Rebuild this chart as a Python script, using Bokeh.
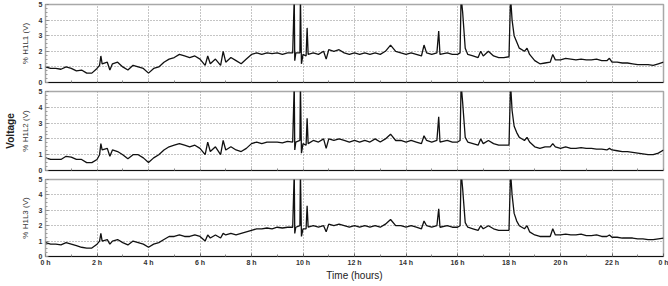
from bokeh.plotting import figure
from bokeh.layouts import column
from bokeh.models import FixedTicker, LinearAxis, Range1d, PrintfTickFormatter
from bokeh.embed import file_html
from bokeh.resources import INLINE

# time of day in hours
hours = [
    0.0, 0.2, 0.4, 0.6, 0.8, 1.0, 1.2, 1.4, 1.6, 1.8,
    2.0, 2.1, 2.15, 2.2, 2.4, 2.5, 2.6, 2.8, 3.0, 3.2,
    3.4, 3.6, 3.8, 4.0, 4.2, 4.4, 4.6, 4.8, 5.0, 5.2,
    5.4, 5.6, 5.8, 6.0, 6.2, 6.3, 6.4, 6.6, 6.8, 6.9,
    7.0, 7.2, 7.4, 7.6, 7.8, 8.0, 8.2, 8.4, 8.6, 8.8,
    9.0, 9.2, 9.4, 9.6, 9.66, 9.68, 9.72, 9.88, 9.90, 9.94,
    10.0, 10.12, 10.16, 10.2, 10.4, 10.6, 10.8, 10.9, 11.0, 11.2,
    11.4, 11.6, 11.8, 12.0, 12.2, 12.4, 12.6, 12.8, 13.0, 13.2,
    13.4, 13.6, 13.8, 14.0, 14.2, 14.4, 14.6, 14.7, 14.8, 15.0,
    15.2, 15.27, 15.32, 15.6, 15.8, 16.0, 16.1, 16.14, 16.2, 16.3,
    16.4, 16.6, 16.8, 16.9, 17.0, 17.2, 17.4, 17.6, 17.8, 18.0,
    18.06, 18.12, 18.2, 18.3, 18.4, 18.6, 18.7, 18.8, 19.0, 19.2,
    19.4, 19.6, 19.7, 19.8, 20.0, 20.2, 20.4, 20.6, 20.8, 21.0,
    21.2, 21.4, 21.6, 21.8, 21.9, 22.0, 22.2, 22.4, 22.6, 22.8,
    23.0, 23.2, 23.4, 23.6, 23.8, 24.0,
]

h1l1 = [
    1.0, 0.9, 0.9, 0.85, 1.0, 0.9, 0.75, 0.8, 0.6, 0.6,
    0.9, 1.1, 1.7, 1.2, 1.3, 0.8, 1.2, 1.3, 1.0, 0.8,
    1.1, 1.0, 0.9, 0.6, 0.9, 1.0, 1.3, 1.5, 1.6, 1.8,
    1.7, 1.6, 1.7, 1.5, 1.1, 1.7, 1.2, 1.5, 1.1, 2.0,
    1.3, 1.6, 1.4, 1.2, 1.5, 1.8, 1.9, 1.8, 1.9, 1.85,
    1.9, 1.8, 1.9, 1.9, 5.5, 1.4, 1.9, 1.9, 5.5, 1.2,
    1.8, 1.7, 3.5, 1.8, 1.9, 1.8, 2.0, 1.5, 2.1, 2.0,
    2.1, 1.9, 1.8, 1.9, 1.8, 1.9, 1.8, 1.9, 1.8, 2.0,
    2.4, 2.0, 1.9, 1.8, 1.9, 1.8, 1.7, 2.4, 1.9, 1.8,
    1.9, 3.3, 1.8, 1.9, 1.8, 1.8, 1.9, 5.5, 4.5, 2.2,
    1.8, 1.7, 1.6, 2.0, 1.7, 2.0, 1.7, 1.6, 1.6, 1.65,
    5.5, 4.0, 3.0, 2.6, 2.2, 2.0, 2.2, 1.8, 1.4, 1.2,
    1.25, 1.3, 1.8, 1.45, 1.45, 1.55, 1.5, 1.45, 1.5, 1.45,
    1.45, 1.5, 1.4, 1.4, 1.55, 1.3, 1.3, 1.25, 1.25, 1.2,
    1.15, 1.15, 1.15, 1.1, 1.2, 1.3,
]

h1l2 = [
    0.8, 0.7, 0.7, 0.7, 0.9, 0.85, 0.7, 0.7, 0.5, 0.5,
    0.7, 1.0, 1.7, 1.3, 1.4, 0.9, 1.3, 1.2, 1.0, 0.75,
    1.0, 1.0, 0.8, 0.5, 0.8, 1.0, 1.3, 1.5, 1.6, 1.7,
    1.6, 1.5, 1.6, 1.4, 1.0, 1.8, 1.2, 1.5, 1.0, 1.9,
    1.3, 1.5, 1.3, 1.2, 1.4, 1.7, 1.8, 1.7, 1.8, 1.8,
    1.8, 1.75, 1.85, 1.8, 5.5, 1.3, 1.8, 1.9, 5.5, 1.1,
    1.7, 1.6, 3.3, 1.7, 1.9, 1.8, 2.0, 1.4, 2.0, 1.9,
    2.0, 1.9, 1.8, 1.9, 1.8, 1.9, 1.8, 2.0, 1.8, 2.0,
    2.3, 1.9, 1.9, 1.8, 1.9, 1.8, 1.7, 2.2, 1.9, 1.8,
    1.9, 3.4, 1.8, 1.9, 1.8, 1.8, 1.9, 5.5, 4.3, 2.1,
    1.8, 1.7, 1.6, 2.0, 1.7, 1.9, 1.7, 1.6, 1.6, 1.6,
    5.5, 3.8, 2.8, 2.4, 2.1, 1.9, 2.1, 1.8, 1.5, 1.4,
    1.5, 1.5, 1.7, 1.5, 1.4, 1.5, 1.4, 1.4, 1.45, 1.4,
    1.4, 1.35, 1.35, 1.3, 1.4, 1.3, 1.25, 1.2, 1.2, 1.15,
    1.1, 1.05, 1.0, 1.0, 1.1, 1.3,
]

h1l3 = [
    0.9, 0.8, 0.8, 0.75, 0.9, 0.8, 0.7, 0.6, 0.55, 0.55,
    0.8, 1.0, 1.5, 1.0, 1.1, 0.8, 1.0, 1.1, 0.9, 0.75,
    1.0, 0.9, 0.8, 0.6, 0.8, 0.9, 1.1, 1.3, 1.3, 1.4,
    1.3, 1.3, 1.4, 1.3, 1.0, 1.4, 1.2, 1.4, 1.2, 1.5,
    1.4, 1.5, 1.4, 1.5, 1.6, 1.7, 1.8, 1.8, 1.85, 1.8,
    1.9, 1.85, 1.9, 1.9, 5.5, 1.5, 1.9, 2.0, 5.5, 1.3,
    1.8, 1.8, 3.3, 1.9, 2.0, 1.9, 2.0, 1.6, 2.1, 2.0,
    2.1, 2.0, 1.9, 2.0, 1.9, 2.0, 1.9, 2.0, 1.9, 2.1,
    2.4, 2.0, 2.0, 1.9, 2.0, 1.9, 1.8, 2.3, 2.0, 1.9,
    2.0, 3.1, 1.9, 2.0, 1.9, 1.9, 2.0, 5.5, 4.4, 2.2,
    1.9, 1.8, 1.7, 2.0, 1.8, 2.0, 1.8, 1.7, 1.7, 1.7,
    5.5, 4.0, 2.8, 2.3, 2.0, 1.8, 2.0, 1.6, 1.4, 1.3,
    1.3, 1.3, 1.8, 1.4, 1.4, 1.45, 1.4, 1.4, 1.45, 1.35,
    1.35, 1.4, 1.3, 1.3, 1.4, 1.25, 1.25, 1.2, 1.2, 1.2,
    1.15, 1.15, 1.1, 1.1, 1.15, 1.2,
]

series_labels = ["% H1L1 (V)", "% H1L2 (V)", "% H1L3 (V)"]
x_ticks = [0, 2, 4, 6, 8, 10, 12, 14, 16, 18, 20, 22, 24]
x_minor = [1, 3, 5, 7, 9, 11, 13, 15, 17, 19, 21, 23]
y_ticks = [0, 1, 2, 3, 4, 5]
y_minor = [i * 0.25 for i in range(21)]

assert len(hours) == len(h1l1) == len(h1l2) == len(h1l3)

FONT = "Liberation Sans"


def make_panel(vals, label, top, bottom, frame_h, show_x, show_voltage):
    p = figure(frame_width=618, frame_height=frame_h,
               x_range=Range1d(0, 24), y_range=Range1d(0, 5),
               output_backend="svg", toolbar_location=None,
               min_border_left=45, min_border_right=5,
               min_border_top=top, min_border_bottom=bottom,
               background_fill_color="white", border_fill_color="white")
    p.line(hours, vals, line_color="#111111", line_width=1.3)

    p.outline_line_color = "#a8a8a8"
    p.outline_line_width = 1.5

    # grids
    p.xgrid.ticker = FixedTicker(ticks=x_ticks)
    p.ygrid.ticker = FixedTicker(ticks=[1, 2, 3, 4])
    for g in (p.xgrid[0], p.ygrid[0]):
        g.grid_line_color = "#8a8a8a"
        g.grid_line_dash = "1 2"
        g.grid_line_width = 1

    # x axis
    xa = p.xaxis[0]
    if show_x:
        xa.ticker = FixedTicker(ticks=x_ticks, minor_ticks=x_minor)
        xa.formatter = PrintfTickFormatter(format="%d h")
        xa.major_label_overrides = {24: "0 h"}
        xa.axis_label = "Time (hours)"
        xa.axis_label_text_font = FONT
        xa.axis_label_text_font_size = "10px"
        xa.axis_label_text_font_style = "normal"
        xa.axis_label_text_color = "#222222"
        xa.axis_label_standoff = 1
        xa.major_label_text_font = FONT
        xa.major_label_text_font_size = "7px"
        xa.major_label_text_font_style = "bold"
        xa.major_label_text_color = "#333333"
        xa.major_label_standoff = 2
    else:
        xa.ticker = FixedTicker(ticks=[], minor_ticks=x_ticks + x_minor)
    xa.axis_line_color = "#111111"
    xa.axis_line_width = 1
    xa.major_tick_in = 3
    xa.major_tick_out = 0
    xa.minor_tick_in = 2
    xa.minor_tick_out = 0
    xa.major_tick_line_color = "#666666"
    xa.minor_tick_line_color = "#888888"

    # y axis
    ya = p.yaxis[0]
    ya.ticker = FixedTicker(ticks=y_ticks, minor_ticks=y_minor)
    ya.axis_line_color = "#a8a8a8"
    ya.axis_line_dash = "1 1"
    ya.major_tick_in = 3
    ya.major_tick_out = 0
    ya.minor_tick_in = 2
    ya.minor_tick_out = 0
    ya.major_tick_line_color = "#777777"
    ya.minor_tick_line_color = "#999999"
    ya.major_label_text_font = FONT
    ya.major_label_text_font_size = "7px"
    ya.major_label_text_font_style = "bold"
    ya.major_label_text_color = "#333333"
    ya.major_label_standoff = 3
    ya.axis_label = label
    ya.axis_label_text_font = FONT
    ya.axis_label_text_font_size = "8px"
    ya.axis_label_text_font_style = "normal"
    ya.axis_label_text_color = "#333333"
    ya.axis_label_standoff = 6

    if show_voltage:
        va = LinearAxis(ticker=FixedTicker(ticks=[]), axis_label="Voltage",
                        axis_line_alpha=0, major_tick_in=0, major_tick_out=0,
                        minor_tick_in=0, minor_tick_out=0,
                        axis_label_text_font=FONT,
                        axis_label_text_font_size="10px",
                        axis_label_text_font_style="bold",
                        axis_label_text_color="#222222",
                        axis_label_standoff=2)
        p.add_layout(va, "left")
    return p


p1 = make_panel(h1l1, series_labels[0], 4, 4, 78, False, False)
p2 = make_panel(h1l2, series_labels[1], 5, 4, 79, False, True)
p3 = make_panel(h1l3, series_labels[2], 5, 24, 77, True, False)

layout = column(p1, p2, p3, spacing=0)

open("out.html", "w").write(file_html(layout, INLINE))
